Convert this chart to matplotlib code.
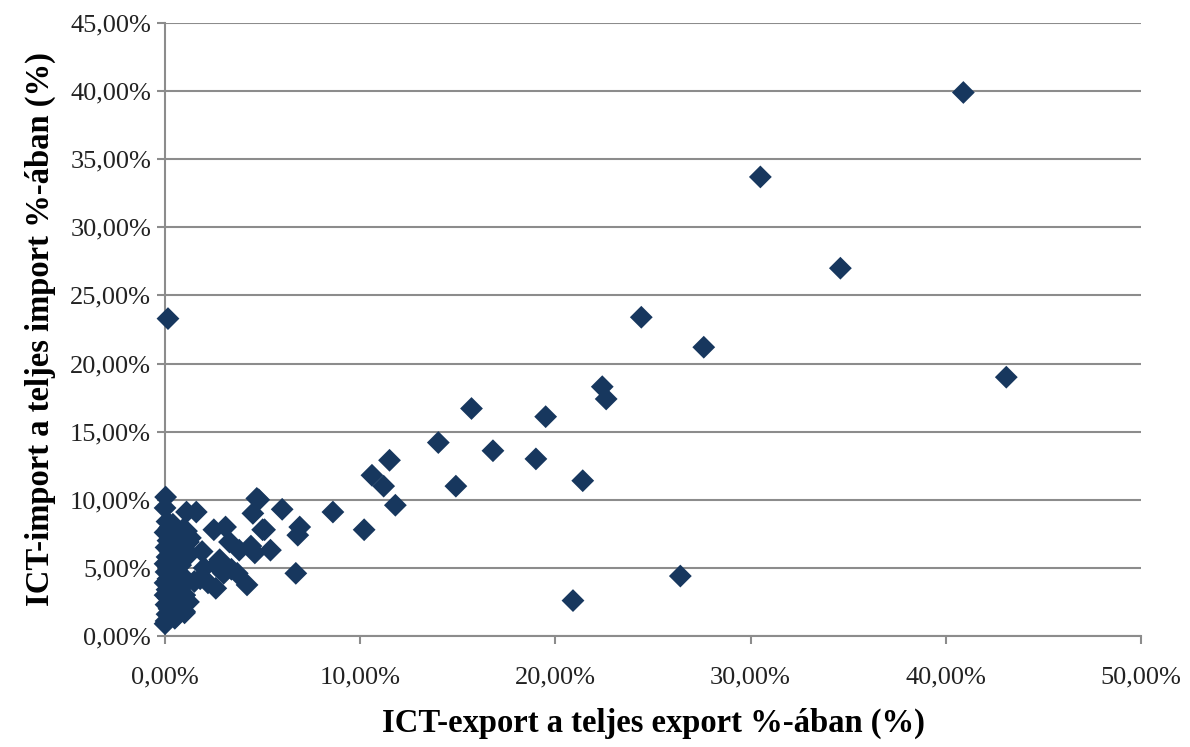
import matplotlib
matplotlib.use("Agg")
import matplotlib.pyplot as plt
from matplotlib.ticker import FuncFormatter

# ICT export share (%) and ICT import share (%)
export_pct = [
    40.9, 30.5, 34.6, 43.1, 0.15, 24.4, 27.6, 22.4, 22.6, 15.7, 19.5, 14.0, 16.8,
    11.5, 19.0, 10.6, 11.2, 14.9, 21.4, 11.8, 8.6, 10.2, 26.4, 20.9,
    6.9, 6.8, 6.7, 6.0, 5.4, 4.7, 5.0,
    0.03, 0.0, 1.1, 1.6, 4.8, 4.5, 5.1, 2.5, 3.1, 0.26, 1.1, 1.2, 3.3, 3.8, 4.4,
    4.6, 1.9, 2.6, 1.8, 2.2, 2.6, 3.0, 3.7, 4.2, 1.0, 1.0, 0.0,
    0.05, 0.1, 0.2, 0.05, 0.3, 0.15, 0.0, 0.4, 0.1, 0.25, 0.0, 0.5, 0.15, 0.3,
    0.05, 0.6, 0.2, 0.0, 0.4, 0.1, 0.7, 0.25, 0.05, 0.5, 0.15, 0.3, 0.0, 0.6,
    0.2, 0.4, 0.1, 0.8, 0.9, 1.0, 1.0, 0.8, 1.1, 0.9, 0.7, 0.6, 1.2, 1.3, 0.9,
    1.0, 2.0, 2.8, 3.4, 1.5, 0.5, 0.35,
]
import_pct = [
    39.9, 33.7, 27.0, 19.0, 23.3, 23.4, 21.2, 18.3, 17.4, 16.7, 16.1, 14.2, 13.6,
    12.9, 13.0, 11.8, 11.0, 11.0, 11.4, 9.6, 9.1, 7.8, 4.4, 2.6,
    8.0, 7.4, 4.6, 9.3, 6.3, 10.1, 7.8,
    10.2, 9.4, 9.1, 9.1, 10.0, 9.0, 7.8, 7.8, 8.0, 8.0, 7.7, 6.9, 6.9, 6.3, 6.6,
    6.1, 6.2, 5.2, 4.2, 3.9, 3.5, 4.6, 4.6, 3.75, 3.0, 1.7, 0.9,
    1.1, 1.6, 2.0, 2.3, 2.5, 2.8, 3.0, 3.1, 3.4, 3.6, 3.9, 4.0, 4.2, 4.5,
    4.7, 4.8, 5.0, 5.3, 5.5, 5.8, 6.0, 6.2, 6.5, 6.7, 7.0, 7.3, 7.6, 7.5,
    7.9, 8.2, 8.4, 3.5, 2.2, 1.8, 3.0, 5.2, 5.8, 4.4, 2.8, 1.5, 2.5, 7.2, 7.8,
    6.4, 5.0, 5.6, 4.9, 4.0, 1.3, 2.0,
]

x_ticks = [0, 10, 20, 30, 40, 50]
y_ticks = [0, 5, 10, 15, 20, 25, 30, 35, 40, 45]

plt.rcParams['font.family'] = ['Liberation Serif', 'DejaVu Serif']

fig = plt.figure(figsize=(11.9, 7.47), dpi=100)
ax = fig.add_axes([0.1387, 0.1486, 0.8201, 0.8206])

ax.scatter(export_pct, import_pct, marker='D', s=135, color='#17375E',
           edgecolors='none', zorder=3, clip_on=False)

ax.set_xlim(0, 50)
ax.set_ylim(0, 45)
ax.set_xticks(x_ticks)
ax.set_yticks(y_ticks)
fmt = FuncFormatter(lambda v, p: f"{v:.2f}".replace('.', ',') + '%')
ax.xaxis.set_major_formatter(fmt)
ax.yaxis.set_major_formatter(fmt)

ax.grid(axis='y', color='#8C8C8C', linewidth=1.5, zorder=0)
ax.set_axisbelow(True)
for s in ['top', 'right']:
    ax.spines[s].set_visible(False)
for s in ['left', 'bottom']:
    ax.spines[s].set_color('#8C8C8C')
    ax.spines[s].set_linewidth(1.5)
ax.tick_params(axis='both', direction='out', length=6, width=1.5, color='#8C8C8C',
               labelsize=19, labelcolor='#222222')
ax.tick_params(axis='x', pad=16)
ax.tick_params(axis='y', pad=4)

ax.set_xlabel('ICT-export a teljes export %-ában (%)', fontsize=23.5, fontweight='bold',
              labelpad=14)
ax.set_ylabel('ICT-import a teljes import %-ában (%)', fontsize=23.5, fontweight='bold',
              labelpad=10)

fig.savefig('out.png', dpi=100)
